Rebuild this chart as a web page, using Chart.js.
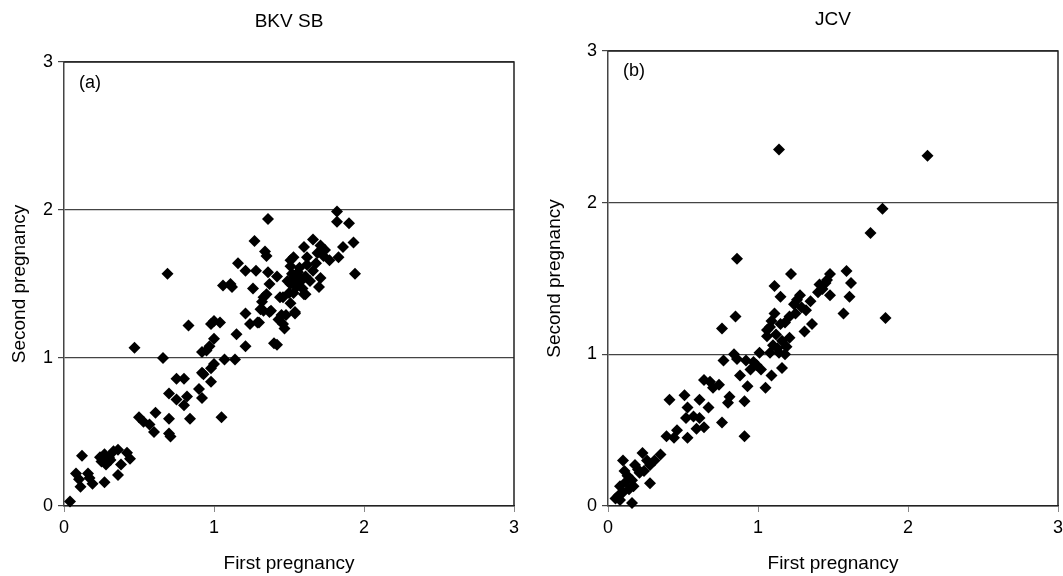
<!DOCTYPE html>
<html>
<head>
<meta charset="utf-8">
<script src="https://cdn.jsdelivr.net/npm/chart.js@4.4.1/dist/chart.umd.min.js"></script>
<style>
  html, body { margin: 0; padding: 0; background: #fff; overflow: hidden; width: 1063px; height: 576px; }
  .panel { position: absolute; top: 0; height: 576px; }
  #left { left: 0; width: 531px; }
  #right { left: 531px; width: 545px; }
</style>
</head>
<body>
<div class="panel" id="left"><canvas id="chartA" width="531" height="576"></canvas></div>
<div class="panel" id="right"><canvas id="chartB" width="545" height="576"></canvas></div>
<script>
// titles and labels
const panelTitles = ['BKV SB', 'JCV'];
const panelTags = ['(a)', '(b)'];
const xTitle = 'First pregnancy';
const yTitle = 'Second pregnancy';
const tickValues = [0, 1, 2, 3];

// (a) BKV SB  [first pregnancy, second pregnancy]
const bkvPoints = [
  [0.04, 0.03], [0.12, 0.34], [0.08, 0.22], [0.10, 0.18], [0.11, 0.13], [0.17, 0.19],
  [0.19, 0.15], [0.16, 0.22], [0.27, 0.16], [0.24, 0.33], [0.27, 0.35], [0.31, 0.31],
  [0.28, 0.28], [0.33, 0.37], [0.36, 0.38], [0.36, 0.21], [0.38, 0.28], [0.42, 0.36],
  [0.44, 0.32], [0.25, 0.30], [0.30, 0.33], [0.47, 1.07], [0.50, 0.60], [0.53, 0.57],
  [0.57, 0.55], [0.60, 0.50], [0.61, 0.63], [0.66, 1.00], [0.69, 1.57], [0.70, 0.76],
  [0.70, 0.59], [0.70, 0.49], [0.71, 0.47], [0.75, 0.72], [0.75, 0.86], [0.80, 0.86],
  [0.80, 0.68], [0.82, 0.74], [0.83, 1.22], [0.84, 0.59], [0.90, 0.79], [0.92, 0.73],
  [0.92, 0.90], [0.93, 0.89], [0.92, 1.04], [0.95, 1.05], [0.97, 1.08], [0.98, 0.84],
  [0.98, 0.93], [1.00, 0.96], [0.98, 1.23], [1.00, 1.25], [1.04, 1.24], [1.00, 1.13],
  [1.05, 0.60], [1.07, 0.99], [1.06, 1.49], [1.11, 1.50], [1.12, 1.48], [1.14, 0.99],
  [1.15, 1.16], [1.16, 1.64], [1.21, 1.59], [1.21, 1.30], [1.21, 1.08], [1.24, 1.23],
  [1.26, 1.47], [1.27, 1.79], [1.29, 1.24], [1.28, 1.59], [1.32, 1.38], [1.31, 1.33],
  [1.33, 1.32], [1.34, 1.72], [1.36, 1.94], [1.35, 1.69], [1.35, 1.43], [1.36, 1.58],
  [1.37, 1.50], [1.37, 1.31], [1.40, 1.10], [1.42, 1.09], [1.42, 1.55], [1.43, 1.26],
  [1.44, 1.41], [1.47, 1.20], [1.48, 1.29], [1.51, 1.37], [1.53, 1.44], [1.54, 1.31],
  [1.51, 1.66], [1.53, 1.68], [1.55, 1.50], [1.57, 1.55], [1.60, 1.75], [1.61, 1.43],
  [1.62, 1.63], [1.82, 1.99], [1.82, 1.92], [1.90, 1.91], [1.93, 1.78], [1.86, 1.75],
  [1.83, 1.68], [1.94, 1.57], [1.66, 1.80], [1.71, 1.76], [1.74, 1.73], [1.77, 1.66],
  [1.68, 1.64], [1.62, 1.68], [1.51, 1.62], [1.57, 1.61], [1.66, 1.59], [1.71, 1.54],
  [1.70, 1.48], [1.64, 1.52], [1.61, 1.55], [1.53, 1.54], [1.51, 1.50], [1.55, 1.48],
  [1.60, 1.43], [1.46, 1.41], [1.50, 1.44], [1.45, 1.29], [1.54, 1.30], [1.46, 1.23],
  [1.38, 1.32], [1.30, 1.24], [1.33, 1.41], [1.49, 1.52], [1.56, 1.58], [1.59, 1.47],
  [1.52, 1.57], [1.58, 1.52], [1.69, 1.71], [1.73, 1.69]
];

// (b) JCV  [first pregnancy, second pregnancy]
const jcvPoints = [
  [1.14, 2.35], [2.13, 2.31], [1.83, 1.96], [1.75, 1.80], [0.86, 1.63], [1.22, 1.53],
  [1.59, 1.55], [1.62, 1.47], [1.61, 1.38], [1.57, 1.27], [1.85, 1.24], [1.48, 1.53],
  [1.48, 1.39], [1.45, 1.47], [1.46, 1.49], [1.41, 1.46], [1.40, 1.41], [1.11, 1.45],
  [1.15, 1.38], [1.28, 1.39], [1.26, 1.36], [1.24, 1.33], [1.35, 1.35], [1.32, 1.29],
  [1.11, 1.27], [0.85, 1.25], [1.21, 1.25], [1.18, 1.21], [1.36, 1.20], [1.31, 1.15],
  [0.76, 1.17], [1.08, 1.18], [1.15, 1.20], [1.06, 1.12], [1.10, 1.06], [1.16, 1.09],
  [1.21, 1.11], [1.19, 1.05], [1.08, 1.01], [1.14, 1.01], [1.18, 1.00], [1.01, 1.01],
  [1.16, 0.91], [1.09, 0.86], [1.02, 0.90], [1.05, 0.78], [0.92, 0.96], [0.97, 0.95],
  [0.95, 0.90], [0.84, 1.00], [0.86, 0.97], [0.77, 0.96], [0.88, 0.86], [0.93, 0.79],
  [0.91, 0.69], [0.91, 0.46], [0.81, 0.72], [0.80, 0.68], [0.76, 0.55], [0.74, 0.80],
  [0.70, 0.78], [0.68, 0.82], [0.64, 0.83], [0.67, 0.65], [0.61, 0.70], [0.61, 0.58],
  [0.64, 0.52], [0.59, 0.51], [0.57, 0.59], [0.53, 0.65], [0.51, 0.73], [0.52, 0.58],
  [0.53, 0.45], [0.41, 0.70], [0.46, 0.50], [0.44, 0.45], [0.39, 0.46], [0.35, 0.34],
  [0.31, 0.30], [0.28, 0.27], [0.23, 0.35], [0.26, 0.30], [0.10, 0.30], [0.18, 0.27],
  [0.20, 0.24], [0.24, 0.23], [0.28, 0.15], [0.11, 0.23], [0.16, 0.17], [0.12, 0.16],
  [0.08, 0.13], [0.10, 0.09], [0.07, 0.07], [0.05, 0.05], [0.16, 0.02], [0.08, 0.04],
  [0.17, 0.13], [0.21, 0.22], [0.13, 0.20], [0.14, 0.11], [1.06, 1.16], [1.12, 1.13],
  [1.25, 1.27], [1.29, 1.31], [1.43, 1.43], [1.13, 1.04], [0.99, 0.93], [1.09, 1.22]
];

const fontFamily = '"Liberation Sans", Arial, sans-serif';

// draws the chart title, the box round the plot area and the panel tag
const framePlugin = {
  id: 'frame',
  afterDraw(chart, args, opts) {
    const { ctx, chartArea: a } = chart;
    ctx.save();
    ctx.strokeStyle = '#222';
    ctx.lineWidth = 1.5;
    ctx.beginPath();
    ctx.moveTo(a.left, a.top);
    ctx.lineTo(a.right, a.top);
    ctx.lineTo(a.right, a.bottom);
    ctx.stroke();
    ctx.fillStyle = '#000';
    ctx.textBaseline = 'middle';
    // panel title, centred over the plot area
    ctx.font = '19px ' + fontFamily;
    ctx.textAlign = 'center';
    ctx.fillText(opts.title, (a.left + a.right) / 2, opts.titleY);
    // (a) / (b)
    ctx.font = '18px ' + fontFamily;
    ctx.textAlign = 'left';
    ctx.fillText(opts.tag, a.left + opts.tagX, a.top + opts.tagY);
    ctx.restore();
  }
};

Chart.defaults.font.family = fontFamily;
Chart.defaults.color = '#000';

function makeChart(canvasId, idx, points, geom) {
  const ctx = document.getElementById(canvasId).getContext('2d');
  return new Chart(ctx, {
    type: 'scatter',
    data: {
      datasets: [{
        data: points.map(p => ({ x: p[0], y: p[1] })),
        pointStyle: 'rectRot',
        pointRadius: 6,
        pointHoverRadius: 6,
        pointBorderWidth: 0,
        backgroundColor: '#000',
        borderColor: '#000',
        clip: false
      }]
    },
    options: {
      responsive: false,
      animation: false,
      events: [],
      layout: { padding: { left: 0, right: geom.padRight, top: geom.padTop, bottom: 0 } },
      plugins: {
        legend: { display: false },
        tooltip: { enabled: false },
        title: { display: false },
        frame: { title: panelTitles[idx], titleY: geom.titleY, tag: panelTags[idx], tagX: geom.tagX, tagY: geom.tagY }
      },
      scales: {
        x: {
          type: 'linear',
          min: 0, max: 3,
          afterBuildTicks: s => { s.ticks = tickValues.map(v => ({ value: v })); },
          afterFit: s => { s.height = 70; },
          ticks: { font: { size: 18 }, padding: 5, color: '#000' },
          grid: { drawOnChartArea: false, tickLength: 6, color: '#888' },
          border: { display: true, color: '#222', width: 1.5 },
          title: { display: true, text: xTitle, font: { size: 19 }, padding: { top: 0, bottom: 1 } }
        },
        y: {
          type: 'linear',
          min: 0, max: 3,
          afterBuildTicks: s => { s.ticks = tickValues.map(v => ({ value: v })); },
          afterFit: s => { s.width = geom.yWidth; },
          ticks: { font: { size: 18 }, padding: 5, color: '#000' },
          grid: { drawOnChartArea: true, tickLength: 6, color: '#444', lineWidth: 1.2 },
          border: { display: true, color: '#444', width: 1.5 },
          title: { display: true, text: yTitle, font: { size: 19 }, padding: { top: geom.yTitlePad, bottom: 0 } }
        }
      }
    },
    plugins: [framePlugin]
  });
}

makeChart('chartA', 0, bkvPoints, {
  yWidth: 64, padRight: 17, padTop: 62, titleY: 22,
  yTitlePad: 8.6, tagX: 15, tagY: 21
});
makeChart('chartB', 1, jcvPoints, {
  yWidth: 77, padRight: 18, padTop: 51, titleY: 20,
  yTitlePad: 12.6, tagX: 15, tagY: 20
});
</script>
</body>
</html>
